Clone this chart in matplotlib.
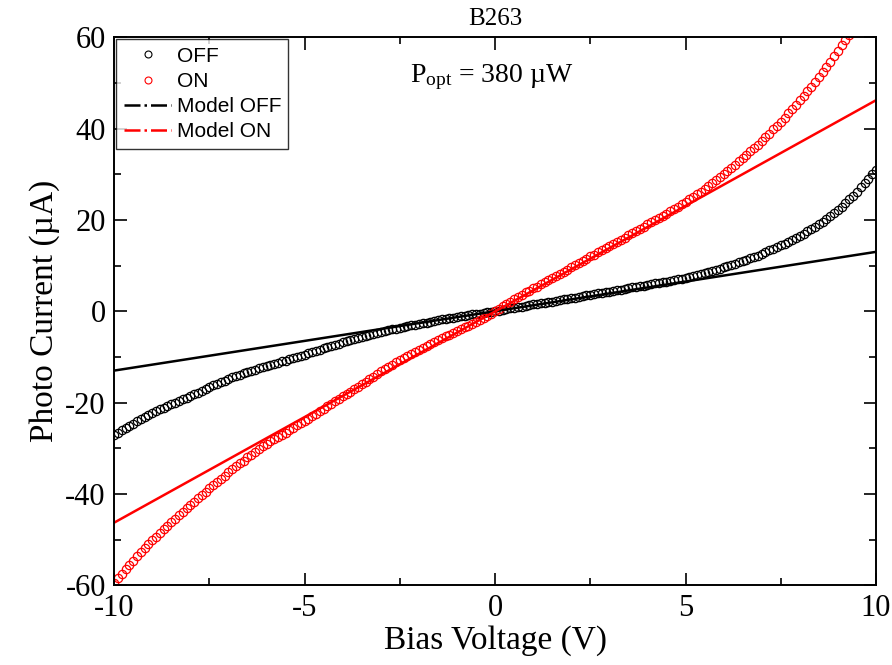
import numpy as np
import matplotlib
matplotlib.use("Agg")
import matplotlib.pyplot as plt
from matplotlib.lines import Line2D
from matplotlib.ticker import MultipleLocator

plt.rcParams['font.family'] = ['Liberation Serif', 'DejaVu Serif']
plt.rcParams['mathtext.fontset'] = 'custom'
plt.rcParams['mathtext.rm'] = 'Liberation Serif'
plt.rcParams['mathtext.it'] = 'Liberation Serif:italic'
plt.rcParams['axes.unicode_minus'] = False

# bias sweep, 0.1 V steps from -10 V to +10 V
bias = np.round(np.linspace(-10, 10, 201), 1)

i_off = [
    -27.2, -26.7, -26.1, -25.6, -25.1, -24.6, -24.1, -23.6, -23.2, -22.7,
    -22.3, -21.9, -21.5, -21.1, -20.8, -20.4, -20.0, -19.7, -19.3, -19.0,
    -18.6, -18.2, -17.8, -17.4, -17.0, -16.6, -16.2, -15.9, -15.5, -15.2,
    -14.8, -14.5, -14.2, -13.9, -13.6, -13.3, -13.0, -12.8, -12.5, -12.3,
    -12.0, -11.8, -11.5, -11.3, -11.0, -10.8, -10.5, -10.3, -10.0, -9.8,
    -9.5, -9.2, -8.9, -8.7, -8.4, -8.1, -7.8, -7.6, -7.3, -7.1,
    -6.8, -6.6, -6.3, -6.1, -5.8, -5.6, -5.4, -5.2, -5.0, -4.8,
    -4.6, -4.4, -4.2, -4.0, -3.8, -3.6, -3.4, -3.3, -3.1, -3.0,
    -2.8, -2.6, -2.5, -2.3, -2.2, -2.0, -1.8, -1.7, -1.5, -1.4,
    -1.2, -1.1, -1.0, -0.8, -0.7, -0.6, -0.5, -0.4, -0.2, -0.1,
    0.0,
    0.1, 0.3, 0.4, 0.6, 0.7, 0.9, 1.0, 1.2, 1.3, 1.5,
    1.6, 1.7, 1.9, 2.0, 2.1, 2.3, 2.4, 2.6, 2.7, 2.9,
    3.0, 3.2, 3.3, 3.5, 3.6, 3.7, 3.9, 4.0, 4.2, 4.3,
    4.4, 4.6, 4.7, 4.9, 5.0, 5.2, 5.3, 5.5, 5.6, 5.8,
    5.9, 6.1, 6.2, 6.4, 6.5, 6.7, 6.8, 7.0, 7.1, 7.3,
    7.5, 7.7, 7.9, 8.1, 8.3, 8.5, 8.8, 9.0, 9.3, 9.6,
    9.9, 10.2, 10.4, 10.7, 11.0, 11.3, 11.6, 11.9, 12.2, 12.6,
    12.9, 13.3, 13.7, 14.0, 14.4, 14.8, 15.2, 15.6, 16.1, 16.5,
    17.0, 17.5, 18.0, 18.5, 19.0, 19.6, 20.2, 20.9, 21.5, 22.2,
    22.9, 23.7, 24.5, 25.3, 26.2, 27.1, 28.0, 29.0, 30.0, 31.0,
]

i_on = [
    -59.5, -58.5, -57.5, -56.5, -55.5, -54.6, -53.7, -52.8, -51.9, -51.0,
    -50.2, -49.4, -48.6, -47.8, -47.0, -46.2, -45.5, -44.7, -44.0, -43.2,
    -42.5, -41.8, -41.0, -40.3, -39.5, -38.8, -38.1, -37.4, -36.7, -36.0,
    -35.3, -34.6, -34.0, -33.3, -32.7, -32.0, -31.4, -30.8, -30.2, -29.6,
    -29.0, -28.5, -28.0, -27.5, -27.1, -26.6, -26.1, -25.5, -25.0, -24.5,
    -24.0, -23.5, -22.9, -22.4, -21.9, -21.4, -20.8, -20.3, -19.7, -19.2,
    -18.6, -18.1, -17.6, -17.0, -16.5, -16.0, -15.4, -14.9, -14.3, -13.8,
    -13.2, -12.7, -12.2, -11.7, -11.2, -10.7, -10.3, -9.8, -9.4, -8.9,
    -8.5, -8.1, -7.6, -7.2, -6.7, -6.3, -5.9, -5.5, -5.1, -4.7,
    -4.3, -3.9, -3.5, -3.2, -2.8, -2.4, -2.0, -1.5, -1.0, -0.5,
    0.0,
    0.5, 1.1, 1.6, 2.1, 2.6, 3.1, 3.6, 4.1, 4.5, 5.0,
    5.4, 5.9, 6.3, 6.8, 7.2, 7.7, 8.2, 8.6, 9.1, 9.6,
    10.1, 10.6, 11.0, 11.5, 12.0, 12.4, 12.9, 13.3, 13.8, 14.2,
    14.7, 15.2, 15.6, 16.1, 16.6, 17.1, 17.6, 18.0, 18.5, 19.0,
    19.5, 20.0, 20.4, 20.9, 21.4, 21.9, 22.4, 22.9, 23.4, 23.9,
    24.5, 25.0, 25.6, 26.2, 26.8, 27.4, 28.0, 28.7, 29.3, 30.0,
    30.7, 31.4, 32.1, 32.8, 33.5, 34.3, 35.0, 35.8, 36.5, 37.3,
    38.1, 38.9, 39.8, 40.6, 41.5, 42.4, 43.3, 44.3, 45.2, 46.2,
    47.2, 48.2, 49.2, 50.3, 51.3, 52.4, 53.5, 54.6, 55.8, 57.0,
    58.2, 59.4, 60.6, 61.8, 63.0, 64.3, 65.6, 66.9, 68.2, 69.5,
]

# linear model lines
model_v = [-10.0, 10.0]
model_off = [-13.0, 13.0]
model_on = [-46.3, 46.2]

fig = plt.figure(figsize=(8.92, 6.65), dpi=100)
ax = fig.add_axes([0.128, 0.12, 0.854, 0.824])

ax.plot(bias, i_off, 'o', ms=6, mfc='none', mec='black', mew=0.9)
ax.plot(bias, i_on, 'o', ms=6, mfc='none', mec='red', mew=0.9)
ax.plot(model_v, model_off, '-', color='black', lw=1.8)
ax.plot(model_v, model_on, '-', color='red', lw=1.8)

ax.set_xlim(-10, 10)
ax.set_ylim(-60, 60)
ax.xaxis.set_major_locator(MultipleLocator(5))
ax.xaxis.set_minor_locator(MultipleLocator(2.5))
ax.yaxis.set_major_locator(MultipleLocator(20))
ax.yaxis.set_minor_locator(MultipleLocator(10))
ax.tick_params(which='both', direction='in', top=True, right=True, width=1.2)
ax.tick_params(which='major', length=9, labelsize=22, pad=6)
ax.tick_params(which='minor', length=5)
for s in ax.spines.values():
    s.set_linewidth(1.4)

ax.set_xlabel('Bias Voltage (V)', fontsize=24, labelpad=2)
ax.set_ylabel('Photo Current (µA)', fontsize=24, labelpad=4)
ax.set_title('B263', fontsize=18, pad=9)
ax.text(0.388, 0.918, r'P$_{\mathrm{opt}}$ = 380 µW', transform=ax.transAxes,
        fontsize=20)

handles = [
    Line2D([], [], ls='none', marker='o', ms=5, mfc='none', mec='black', mew=0.8),
    Line2D([], [], ls='none', marker='o', ms=5, mfc='none', mec='red', mew=0.8),
    Line2D([], [], ls='-.', color='black', lw=1.8),
    Line2D([], [], ls='-.', color='red', lw=1.8),
]
labels = ['OFF', 'ON', 'Model OFF', 'Model ON']
leg = ax.legend(handles, labels, loc='upper left', bbox_to_anchor=(0.0, 1.0),
                prop={'family': 'Liberation Sans', 'size': 15},
                frameon=True, fancybox=False, shadow=False, borderpad=0.35,
                labelspacing=0.3, handlelength=2.3, handletextpad=0.25,
                borderaxespad=0.1)
leg.get_frame().set_edgecolor('black')
leg.get_frame().set_linewidth(1.0)

fig.savefig('out.png', dpi=100)
